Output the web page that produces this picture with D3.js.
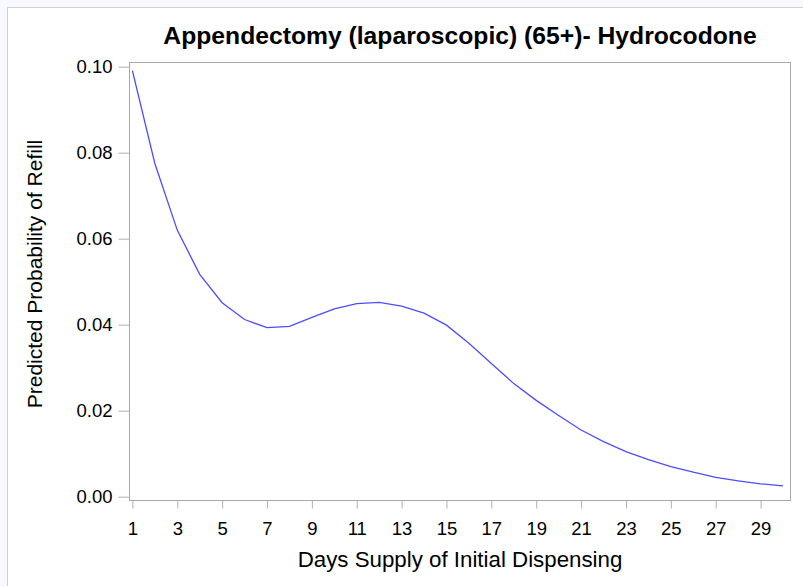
<!DOCTYPE html>
<html>
<head>
<meta charset="utf-8">
<script src="https://cdn.jsdelivr.net/npm/d3@7"></script>
<style>
  html, body { margin: 0; padding: 0; background: #f8f9fe; }
  svg { display: block; }
  text { font-family: "Liberation Sans", Arial, sans-serif; fill: #000; }
</style>
</head>
<body>
<script>
const days = [1,2,3,4,5,6,7,8,9,10,11,12,13,14,15,16,17,18,19,20,21,22,23,24,25,26,27,28,29,30];
const probability = [0.0991,0.0775,0.0620,0.0517,0.0451,0.0412,0.0393,0.0396,0.0417,0.0437,
                     0.0449,0.0452,0.0443,0.0427,0.0399,0.0357,0.0310,0.0263,0.0224,0.0189,
                     0.0155,0.0128,0.0105,0.0086,0.0070,0.0057,0.0045,0.0037,0.0030,0.0025];
const xTicks = [1,3,5,7,9,11,13,15,17,19,21,23,25,27,29];
const yTicks = [0.00,0.02,0.04,0.06,0.08,0.10];
const title = "Appendectomy (laparoscopic) (65+)- Hydrocodone";
const xLabel = "Days Supply of Initial Dispensing";
const yLabel = "Predicted Probability of Refill";

const W = 803, H = 586;
const frame = {left: 129.5, right: 790.5, top: 62.5, bottom: 500.5};
const FONT = "Liberation Sans, Arial, sans-serif";

const svg = d3.select("body").append("svg").attr("width", W).attr("height", H);

// outer panel
svg.append("rect").attr("x", 7.5).attr("y", 7.5).attr("width", W).attr("height", H)
  .attr("fill", "#fff").attr("stroke", "#d0d0d4").attr("stroke-width", 1);

const x = d3.scaleLinear().domain([1, 30]).range([132.4, 783.0]);
const y = d3.scaleLinear().domain([0, 0.10]).range([496.7, 66.7]);

// plot frame
svg.append("rect")
  .attr("x", frame.left).attr("y", frame.top)
  .attr("width", frame.right - frame.left).attr("height", frame.bottom - frame.top)
  .attr("fill", "#fff").attr("stroke", "#a8a8a8").attr("stroke-width", 1);

// y axis
const yAxis = d3.axisLeft(y).tickValues(yTicks).tickFormat(d3.format(".2f"))
  .tickSize(11).tickPadding(6);
const gy = svg.append("g").attr("transform", `translate(${frame.left},0)`).call(yAxis);
gy.select(".domain").remove();
gy.selectAll(".tick line").attr("stroke", "#b0b0b0");
gy.selectAll(".tick text").attr("font-size", 18.5).attr("font-family", FONT).attr("fill", "#000");

// x axis
const xAxis = d3.axisBottom(x).tickValues(xTicks).tickFormat(d3.format("d"))
  .tickSize(8).tickPadding(13);
const gx = svg.append("g").attr("transform", `translate(0,${frame.bottom})`).call(xAxis);
gx.select(".domain").remove();
gx.selectAll(".tick line").attr("stroke", "#b0b0b0");
gx.selectAll(".tick text").attr("font-size", 18.5).attr("font-family", FONT).attr("fill", "#000");

// line
const line = d3.line().x((d, i) => x(days[i])).y(d => y(d));
svg.append("path").datum(probability)
  .attr("d", line).attr("fill", "none")
  .attr("stroke", "#4d4dff").attr("stroke-width", 1.3);

// title
svg.append("text").attr("x", 460).attr("y", 44)
  .attr("text-anchor", "middle").attr("font-size", 24.7).attr("font-weight", "bold")
  .text(title);

// axis labels
svg.append("text").attr("x", 460).attr("y", 567)
  .attr("text-anchor", "middle").attr("font-size", 22.3).text(xLabel);

svg.append("text")
  .attr("transform", `translate(42,274) rotate(-90)`)
  .attr("text-anchor", "middle").attr("font-size", 21).text(yLabel);
</script>
</body>
</html>
